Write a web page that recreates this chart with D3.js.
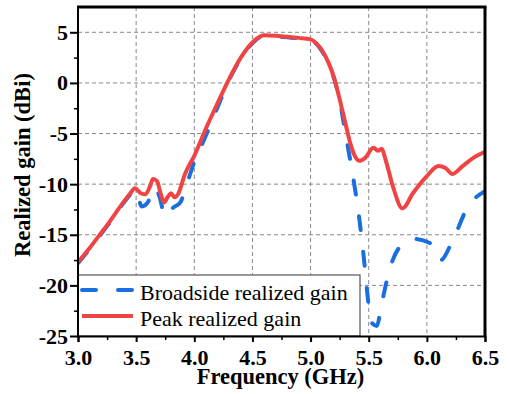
<!DOCTYPE html>
<html>
<head>
<meta charset="utf-8">
<script src="https://cdn.jsdelivr.net/npm/d3@7"></script>
<style>
  body { margin: 0; background: #fff; }
</style>
</head>
<body>
<svg id="chart" width="509" height="394"></svg>
<script>
// Data
const peakFreq = [3.0, 3.1, 3.2, 3.26, 3.37, 3.45, 3.49, 3.54, 3.58, 3.62, 3.645, 3.68, 3.71, 3.74, 3.77, 3.80, 3.83, 3.86, 3.92, 4.0,
  4.1, 4.2, 4.3, 4.4, 4.5, 4.6, 4.7, 4.8, 4.9, 5.0, 5.05, 5.1, 5.15, 5.2, 5.25, 5.3, 5.34, 5.38, 5.42, 5.47, 5.54, 5.58, 5.61, 5.65,
  5.71, 5.79, 5.88, 6.0, 6.1, 6.16, 6.22, 6.31, 6.4, 6.5];
const peakGain = [-17.7, -16.3, -14.8, -13.9, -12.1, -10.9, -10.4, -10.9, -11.0, -10.2, -9.5, -9.7, -10.9, -11.8, -11.3, -10.9, -11.3, -11.0, -9.0, -7.2,
  -4.5, -2.0, 0.4, 2.5, 4.0, 4.7, 4.65, 4.55, 4.45, 4.3, 3.9, 3.2, 2.1, 0.6, -1.6, -4.0, -5.9, -7.2, -7.7, -7.4, -6.4, -6.7, -6.5, -7.8,
  -10.3, -12.4, -10.9, -9.2, -8.2, -8.4, -9.0, -8.2, -7.4, -6.8];

const broadFreq = [3.0, 3.1, 3.2, 3.26, 3.37, 3.45, 3.49, 3.55, 3.6, 3.66, 3.7, 3.75, 3.82, 3.88, 3.93, 4.0,
  4.1, 4.2, 4.3, 4.4, 4.5, 4.6, 4.7, 4.8, 4.9, 5.0, 5.05, 5.1, 5.15, 5.2, 5.25, 5.3, 5.36, 5.42, 5.46, 5.49, 5.52, 5.57,
  5.61, 5.68, 5.76, 5.88, 6.04, 6.12, 6.22, 6.35, 6.5];
const broadGain = [-17.8, -16.4, -14.9, -14.0, -12.2, -11.0, -10.5, -12.2, -11.8, -10.3, -11.2, -13.2, -12.3, -11.8, -10.2, -7.8,
  -5.2, -2.4, 0.3, 2.4, 3.9, 4.65, 4.6, 4.5, 4.4, 4.25, 3.85, 3.1, 2.0, 0.5, -1.7, -5.0, -8.9, -13.5, -17.5, -21.0, -23.6, -24.0,
  -21.9, -18.4, -16.3, -15.4, -15.9, -17.5, -15.6, -12.3, -10.7];

const xTicks = [3.0, 3.5, 4.0, 4.5, 5.0, 5.5, 6.0, 6.5];
const yTicks = [-25, -20, -15, -10, -5, 0, 5];
const seriesNames = ["Broadside realized gain", "Peak realized gain"];
const seriesColors = ["#1a6ee0", "#f04444"];

const font = "Liberation Serif";
const margin = { top: 7, right: 24, bottom: 58, left: 78 };
const width = 509, height = 394;
const svg = d3.select("#chart");

const x = d3.scaleLinear().domain([3.0, 6.5]).range([margin.left, width - margin.right]);
const y = d3.scaleLinear().domain([-25, 7.5]).range([height - margin.bottom, margin.top]);

// grid
const grid = svg.append("g").attr("stroke", "#888").attr("stroke-width", 1).attr("stroke-dasharray", "4,3");
grid.selectAll(".gx").data(xTicks.slice(1, -1)).join("line")
  .attr("x1", d => x(d)).attr("x2", d => x(d))
  .attr("y1", y.range()[1]).attr("y2", y.range()[0]);
grid.selectAll(".gy").data(yTicks.slice(1)).join("line")
  .attr("y1", d => y(d)).attr("y2", d => y(d))
  .attr("x1", x.range()[0]).attr("x2", x.range()[1]);

// lines
const line = d3.line().curve(d3.curveMonotoneX);
svg.append("clipPath").attr("id", "clip").append("rect")
  .attr("x", margin.left).attr("y", margin.top)
  .attr("width", x.range()[1] - margin.left).attr("height", y.range()[0] - margin.top);

const plot = svg.append("g").attr("clip-path", "url(#clip)");
plot.append("path")
  .attr("d", line(broadFreq.map((f, i) => [x(f), y(broadGain[i])])))
  .attr("fill", "none").attr("stroke", seriesColors[0]).attr("stroke-width", 4)
  .attr("stroke-linecap", "round").attr("stroke-dasharray", "14,22");
plot.append("path")
  .attr("d", line(peakFreq.map((f, i) => [x(f), y(peakGain[i])])))
  .attr("fill", "none").attr("stroke", seriesColors[1]).attr("stroke-width", 4)
  .attr("stroke-linejoin", "round");

// legend
const legend = svg.append("g");
legend.append("rect")
  .attr("x", margin.left).attr("y", 275).attr("width", 282).attr("height", y(-25) - 275)
  .attr("fill", "#fff").attr("stroke", "#555").attr("stroke-width", 1.2);
seriesNames.forEach((name, i) => {
  const ly = 290 + i * 26;
  legend.append("line")
    .attr("x1", 82).attr("x2", 133).attr("y1", ly).attr("y2", ly)
    .attr("stroke", seriesColors[i]).attr("stroke-width", 4)
    .attr("stroke-linecap", i === 0 ? "round" : "butt")
    .attr("stroke-dasharray", i === 0 ? "14,22" : null);
  legend.append("text")
    .attr("x", 140).attr("y", ly + 10)
    .attr("font-size", 22).style("font-family", font)
    .text(name);
});

// axes
svg.append("g").attr("transform", `translate(0,${y(-25)})`).call(d3.axisBottom(x)
  .tickValues(d3.range(7).map(i => 3.25 + i * 0.5)).tickSize(4).tickFormat(""))
  .call(g => g.select(".domain").remove())
  .call(g => g.selectAll("line").attr("stroke-width", 1.5));
svg.append("g").attr("transform", `translate(0,${y(-25)})`).call(d3.axisBottom(x)
  .tickValues(xTicks).tickSize(6).tickPadding(7).tickFormat(d3.format(".1f")))
  .call(g => g.select(".domain").attr("stroke-width", 2))
  .call(g => g.selectAll("line").attr("stroke-width", 2))
  .call(g => g.selectAll("text").attr("font-size", 22).attr("font-weight", "bold")
    .style("font-family", font).attr("fill", "#000"));

svg.append("g").attr("transform", `translate(${margin.left},0)`).call(d3.axisLeft(y)
  .tickValues(d3.range(-22.5, 7.5, 5)).tickSize(4).tickFormat(""))
  .call(g => g.select(".domain").remove())
  .call(g => g.selectAll("line").attr("stroke-width", 1.5));
svg.append("g").attr("transform", `translate(${margin.left},0)`).call(d3.axisLeft(y)
  .tickValues(yTicks).tickSize(8).tickPadding(2).tickFormat(d3.format("d")))
  .call(g => g.select(".domain").attr("stroke-width", 2).attr("d", `M0,${y(-25)}V${margin.top}`))
  .call(g => g.selectAll("line").attr("stroke-width", 2))
  .call(g => g.selectAll("text").attr("font-size", 22).attr("font-weight", "bold")
    .style("font-family", font).attr("fill", "#000")
    .text(d => d < 0 ? "-" + Math.abs(d) : d));

// top and right frame
svg.append("line").attr("x1", margin.left - 1).attr("x2", x(6.5) + 1.5)
  .attr("y1", margin.top).attr("y2", margin.top).attr("stroke", "#000").attr("stroke-width", 3);
svg.append("line").attr("x1", x(6.5)).attr("x2", x(6.5))
  .attr("y1", margin.top).attr("y2", y(-25)).attr("stroke", "#000").attr("stroke-width", 3);

// titles
svg.append("text")
  .attr("x", (x(3.0) + x(6.5)) / 2 - 1).attr("y", 384)
  .attr("text-anchor", "middle").attr("font-size", 22.5).attr("font-weight", "bold")
  .style("font-family", font)
  .text("Frequency (GHz)");
svg.append("text")
  .attr("transform", `translate(30,165) rotate(-90)`)
  .attr("text-anchor", "middle").attr("font-size", 22.5).attr("font-weight", "bold")
  .style("font-family", font)
  .text("Realized gain (dBi)");
</script>
</body>
</html>
